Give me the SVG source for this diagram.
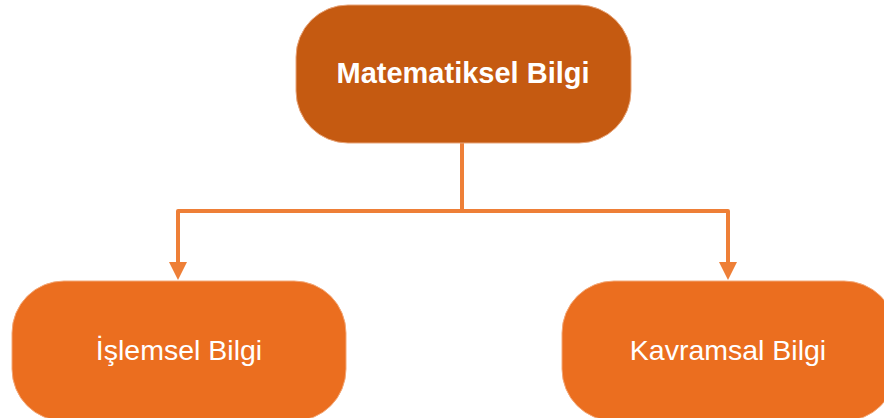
<svg xmlns="http://www.w3.org/2000/svg" width="884" height="418" viewBox="0 0 884 418">
  <style>
    .top { fill: #C55A11; stroke: #E8A57A; stroke-width: 1; }
    .child { fill: #EB6E1F; stroke: #F3A878; stroke-width: 1; }
    .lbl { font-family: "Liberation Sans", Arial, sans-serif; fill: #FFFFFF; text-anchor: middle; dominant-baseline: central; }
    .link { fill: none; stroke: #EE7F37; stroke-width: 4; stroke-linejoin: round; }
    .tip { fill: #EE7F37; }
  </style>

  <rect width="884" height="418" fill="#FFFFFF"/>

  <g id="connectors">
    <path class="link" d="M462,143 L462,211"/>
    <path class="link" d="M178,262 L178,211 L728,211 L728,262"/>
    <path class="tip" d="M169,262 L187,262 L178,280 Z"/>
    <path class="tip" d="M719,262 L737,262 L728,280 Z"/>
  </g>

  <g id="matematiksel-bilgi">
    <rect class="top" x="296" y="5" width="335" height="138" rx="52" ry="52"/>
    <text class="lbl" x="463" y="73" font-size="29" font-weight="bold">Matematiksel Bilgi</text>
  </g>

  <g id="islemsel-bilgi">
    <rect class="child" x="12" y="281" width="334" height="140" rx="52" ry="52"/>
    <text class="lbl" x="179" y="350" font-size="28.5">İşlemsel Bilgi</text>
  </g>

  <g id="kavramsal-bilgi">
    <rect class="child" x="562" y="281" width="334" height="140" rx="52" ry="52"/>
    <text class="lbl" x="728" y="350" font-size="28.5">Kavramsal Bilgi</text>
  </g>
</svg>
